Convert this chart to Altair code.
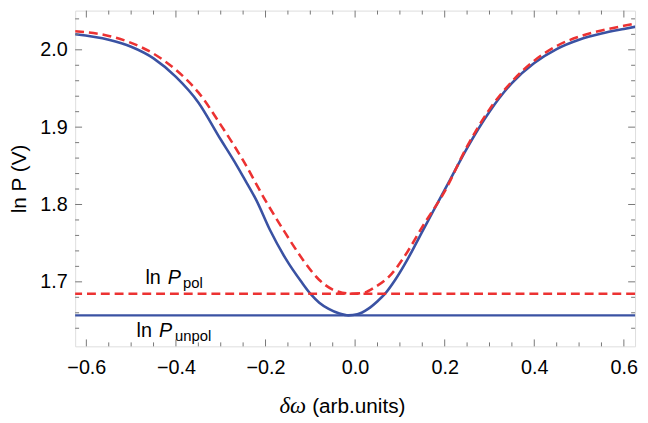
import altair as alt
import pandas as pd

# ---- data ----
blue_x = [-0.625, -0.55, -0.5, -0.45, -0.4, -0.35, -0.3, -0.27, -0.25, -0.22, -0.19, -0.154,
          -0.12, -0.099, -0.08, -0.059, -0.035, -0.015, 0.005, 0.029, 0.05, 0.066, 0.09, 0.117,
          0.14, 0.161, 0.187, 0.212, 0.25, 0.30, 0.35, 0.40, 0.45, 0.50, 0.55, 0.60, 0.627]
blue_y = [2.020, 2.013, 2.004, 1.989, 1.965, 1.932, 1.884, 1.856, 1.836, 1.805, 1.767, 1.729,
          1.700, 1.684, 1.673, 1.665, 1.659, 1.6566, 1.658, 1.665, 1.675, 1.684, 1.703, 1.729,
          1.754, 1.777, 1.805, 1.832, 1.873, 1.920, 1.957, 1.983, 2.001, 2.013, 2.021, 2.027, 2.030]

red_x = [-0.625, -0.55, -0.5, -0.45, -0.4, -0.35, -0.3, -0.25, -0.2, -0.16, -0.117, -0.081,
         -0.05, -0.029, -0.007, 0.02, 0.044, 0.081, 0.117, 0.15, 0.2, 0.25, 0.3, 0.35, 0.4,
         0.45, 0.5, 0.55, 0.6, 0.627]
red_y = [2.024, 2.018, 2.009, 1.995, 1.974, 1.945, 1.903, 1.857, 1.805, 1.767, 1.729, 1.703,
         1.690, 1.686, 1.6847, 1.686, 1.693, 1.710, 1.739, 1.771, 1.817, 1.875, 1.923, 1.959, 1.986,
         2.005, 2.017, 2.025, 2.031, 2.034]

ln_p_pol = 1.6847
ln_p_unpol = 1.6566

x_major = [-0.6, -0.4, -0.2, 0.0, 0.2, 0.4, 0.6]
x_minor = [-0.55, -0.5, -0.45, -0.35, -0.3, -0.25, -0.15, -0.1, -0.05,
           0.05, 0.1, 0.15, 0.25, 0.3, 0.35, 0.45, 0.5, 0.55]
y_major = [1.7, 1.8, 1.9, 2.0]
y_minor = [1.64, 1.66, 1.68, 1.72, 1.74, 1.76, 1.78, 1.82, 1.84, 1.86, 1.88,
           1.92, 1.94, 1.96, 1.98, 2.02, 2.04]

XDOM = [-0.625, 0.625]
YDOM = [1.6166, 2.0507]
W, H = 567, 340
BLUE = "#3a52a3"
RED = "#ec3232"
FRAME = "#777777"
FONT = "Liberation Sans"

blue_df = pd.DataFrame({"x": blue_x, "y": blue_y})
red_df = pd.DataFrame({"x": red_x, "y": red_y})

xs = alt.Scale(domain=XDOM, nice=False, zero=False)
ys = alt.Scale(domain=YDOM, nice=False, zero=False)

x_axis = alt.Axis(values=x_major, format=".1f", ticks=False, domain=False, grid=False,
                  labelFontSize=20, labelFont=FONT, labelColor="black", labelPadding=11,
                  title=None)
y_axis = alt.Axis(values=y_major, format=".1f", ticks=False, domain=False, grid=False,
                  labelFontSize=20, labelFont=FONT, labelColor="black", labelPadding=8,
                  title="ln P (V)", titleFontSize=21, titleFont=FONT,
                  titleFontWeight="normal", titleColor="black", titleX=-56,
                  titleBaseline="middle")

base_blue = alt.Chart(blue_df).mark_line(color=BLUE, strokeWidth=2.6, clip=True,
                                         interpolate="monotone").encode(
    x=alt.X("x:Q", scale=xs, axis=x_axis),
    y=alt.Y("y:Q", scale=ys, axis=y_axis),
)
red_line = alt.Chart(red_df).mark_line(color=RED, strokeWidth=2.6, strokeDash=[9, 5], clip=True,
                                       interpolate="monotone").encode(
    x=alt.X("x:Q", scale=xs), y=alt.Y("y:Q", scale=ys))

h_unpol = alt.Chart(pd.DataFrame({"y": [ln_p_unpol]})).mark_rule(
    color=BLUE, strokeWidth=2.2).encode(y=alt.Y("y:Q", scale=ys))
h_pol = alt.Chart(pd.DataFrame({"y": [ln_p_pol]})).mark_rule(
    color=RED, strokeWidth=2.6, strokeDash=[9, 5]).encode(y=alt.Y("y:Q", scale=ys))

def xticks(vals, length):
    d = pd.DataFrame({"x": vals})
    bottom = alt.Chart(d).mark_rule(color=FRAME, strokeWidth=1).encode(
        x=alt.X("x:Q", scale=xs), y=alt.value(H), y2=alt.value(H - length))
    top = alt.Chart(d).mark_rule(color=FRAME, strokeWidth=1).encode(
        x=alt.X("x:Q", scale=xs), y=alt.value(0), y2=alt.value(length))
    return [bottom, top]

def yticks(vals, length):
    d = pd.DataFrame({"y": vals})
    left = alt.Chart(d).mark_rule(color=FRAME, strokeWidth=1).encode(
        y=alt.Y("y:Q", scale=ys), x=alt.value(0), x2=alt.value(length))
    right = alt.Chart(d).mark_rule(color=FRAME, strokeWidth=1).encode(
        y=alt.Y("y:Q", scale=ys), x=alt.value(W), x2=alt.value(W - length))
    return [left, right]

tick_layers = xticks(x_major, 7) + xticks(x_minor, 4) + yticks(y_major, 7) + yticks(y_minor, 4)

def txt(s, x, y, size=20, style="normal", font=FONT):
    return alt.Chart(pd.DataFrame({"t": [s]})).mark_text(
        align="left", baseline="alphabetic", fontSize=size, font=font,
        fontStyle=style, color="black").encode(
        x=alt.datum(x, scale=xs), y=alt.datum(y, scale=ys), text="t:N")

def ptxt(s, px, py, size=21, style="normal", font=FONT):
    return alt.Chart(pd.DataFrame({"t": [s]})).mark_text(
        align="left", baseline="alphabetic", fontSize=size, font=font,
        fontStyle=style, color="black").encode(
        x=alt.value(px), y=alt.value(py), text="t:N")

labels = [
    txt("ln", -0.468, 1.6969),
    txt("P", -0.418, 1.6969, style="italic"),
    txt("pol", -0.384, 1.6915, size=15),
    txt("ln", -0.488, 1.6293),
    txt("P", -0.438, 1.6293, style="italic"),
    txt("unpol", -0.402, 1.6239, size=15),
    # x-axis title
    ptxt("δω", 207, 407, size=23, style="italic", font="Liberation Serif"),
    ptxt("(arb.units)", 240, 407, size=21),
]

chart = alt.layer(
    base_blue, h_unpol, h_pol, red_line, *tick_layers, *labels
).properties(
    width=W, height=H,
    autosize=alt.AutoSizeParams(type="none"),
    padding={"left": 68, "top": 0, "right": 5, "bottom": 75},
).configure_view(stroke=FRAME, strokeWidth=1.2).configure(background="white")

chart.save("out.html", embed_options={"renderer": "svg", "actions": False})
